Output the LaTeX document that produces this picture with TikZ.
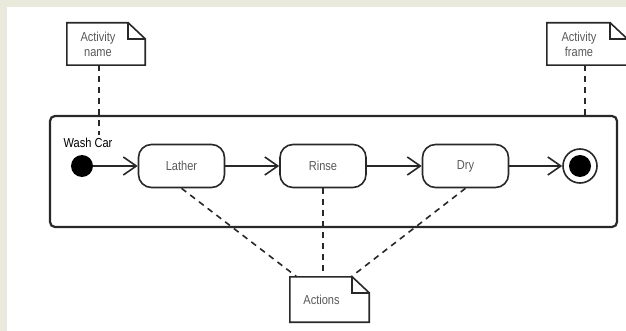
\documentclass[tikz,border=0pt]{standalone}
\usepackage{fontspec}
\setmainfont{Liberation Sans}[FakeStretch=0.85]
\usetikzlibrary{arrows.meta}

\definecolor{paper}{RGB}{233,234,220}
\definecolor{ink}{RGB}{40,40,40}

\tikzset{
    action/.style={draw=ink, line width=1.6pt, rounded corners=13pt, minimum width=86pt, minimum height=43pt, inner sep=0pt, text=black!65},
    flow/.style={draw=ink, line width=1.6pt, -{Straight Barb[length=13pt,width=18pt,line width=1.6pt]}},
    link/.style={draw=ink, line width=1.6pt, dash pattern=on 6pt off 5pt},
    notebox/.style={inner sep=0pt},
    notetext/.style={align=center, text=black!65, inner sep=1pt},
}

% note with a folded corner: name, centre, width, height, text
\newcommand{\umlnote}[5]{%
    \node[notebox, minimum width=#3, minimum height=#4] (#1) at (#2) {};
    \draw[ink, line width=1.6pt] (#1.north west) -- ([xshift=-17pt]#1.north east) -- ([yshift=-16pt]#1.north east) -- (#1.south east) -- (#1.south west) -- cycle;
    \draw[ink, line width=1.6pt] ([xshift=-17pt]#1.north east) |- ([yshift=-16pt]#1.north east);
    \node[notetext] (#1-text) at ([xshift=-8pt]#1.center) {#5};
}

\begin{document}
\begin{tikzpicture}[x=1pt, y=-1pt, font=\fontsize{13}{15}\selectfont]
    \useasboundingbox (0,0) rectangle (626,331);
    %! --- Background ---
    \fill[paper] (0,0) rectangle (626,331);
    \fill[white] (7,7) rectangle (626,331);

    %! --- Activity frame ---
    \node[draw=ink, line width=2.2pt, rounded corners=5pt, minimum width=567pt, minimum height=111pt, inner sep=0pt] (frame) at (333.5,171.5) {};
    \node[text=black] (washcar) at (88,143) {Wash Car};

    % Initial and final nodes
    \node[circle, fill=black, minimum size=22pt, inner sep=0pt] (start) at (82,166) {};
    \node[circle, draw=ink, line width=1.6pt, minimum size=34pt, inner sep=0pt] (final) at (580,166) {};
    \fill[black] (final.center) circle (11pt);

    % Actions
    \node[action] (lather) at (181.5,166) {Lather};
    \node[action] (rinse) at (323,166) {Rinse};
    \node[action] (dry) at (465.5,166) {Dry};

    % Flow
    \draw[flow] (start) -- (lather);
    \draw[flow] (lather) -- (rinse);
    \draw[flow] (rinse) -- (dry);
    \draw[flow] (dry) -- (final);

    %! --- Notes ---
    \umlnote{namenote}{106,44}{78pt}{42pt}{Activity\\name}
    \umlnote{framenote}{587,44}{80pt}{42pt}{Activity\\frame}
    \umlnote{actionsnote}{329.5,299.5}{79pt}{45pt}{Actions}

    \coordinate (namepin) at (99,135);
    \coordinate (framepin) at (585,116);
    \draw[link] (namenote.south -| namepin) -- (namepin);
    \draw[link] (framenote.south -| framepin) -- (framepin);
    \draw[link] (lather.south) -- ([xshift=7pt]actionsnote.north west);
    \draw[link] (rinse.south) -- (rinse.south |- actionsnote.north);
    \draw[link] (dry.south) -- ([xshift=-18pt]actionsnote.north east);
\end{tikzpicture}
\end{document}
